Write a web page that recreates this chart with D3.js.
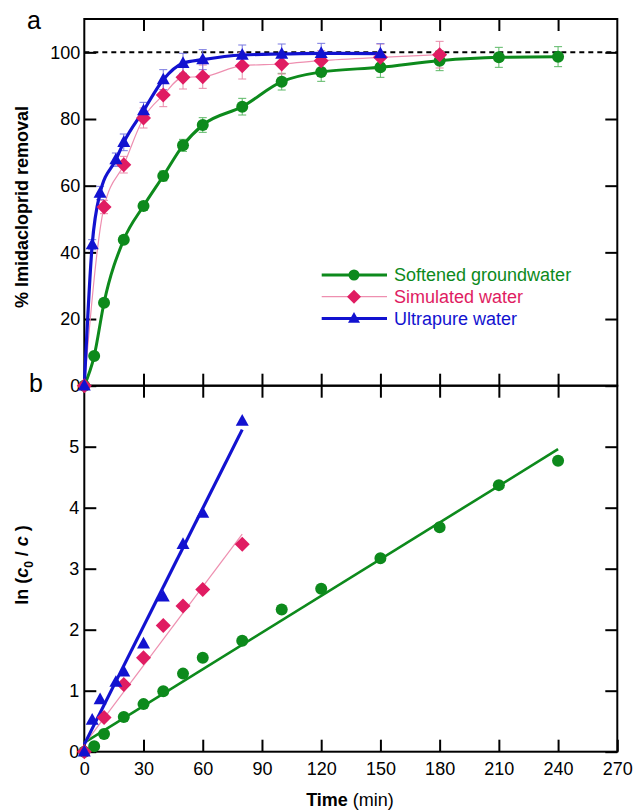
<!DOCTYPE html>
<html>
<head>
<meta charset="utf-8">
<script src="https://cdn.jsdelivr.net/npm/d3@7/dist/d3.min.js"></script>
<style>
  html, body { margin: 0; padding: 0; background: #fff; }
  svg { display: block; font-family: Arial, "Liberation Sans", sans-serif; }
</style>
</head>
<body>
<svg id="chart" width="635" height="812"></svg>
<script>
// ---- Panel a: % imidacloprid removal vs time ----
const timeSoft = [0, 5, 10, 20, 30, 40, 50, 60, 80, 100, 120, 150, 180, 210, 240];
const removalSoft = [0, 8.9, 24.9, 43.8, 53.9, 62.9, 72.1, 78.2, 83.7, 91.2, 94.1, 95.5, 97.5, 98.5, 98.7];
const errSoft = [0, 1, 1, 1, 1.2, 1.5, 1.8, 2.2, 2.5, 2.5, 2.8, 3, 3, 3, 3];

const timeSim = [0, 10, 20, 30, 40, 50, 60, 80, 100, 120, 150, 180];
const removalSim = [0, 53.6, 66.3, 80.3, 87.2, 92.5, 92.7, 96.0, 96.5, 97.5, 98.5, 99.3];
const errSim = [0, 2, 2.5, 3, 3.5, 3.5, 3.5, 4, 3, 3, 4, 4];

const timeUltra = [0, 4, 8, 16, 20, 30, 40, 50, 60, 80, 100, 120, 150];
const removalUltra = [0, 42.3, 57.8, 67.8, 73.0, 82.5, 91.8, 96.7, 97.8, 99.2, 99.5, 99.7, 99.6];
const errUltra = [0, 1.5, 2, 2, 2.5, 2.5, 3, 3, 3, 3, 3, 3, 3];

// ---- Panel b: ln(c0/c) vs time, with linear fits ----
const lnTimeSoft = [0, 5, 10, 20, 30, 40, 50, 60, 80, 100, 120, 150, 180, 210, 240];
const lnSoft = [0, 0.09, 0.29, 0.57, 0.78, 0.99, 1.28, 1.54, 1.82, 2.33, 2.67, 3.17, 3.68, 4.37, 4.77];
const lnTimeSim = [0, 10, 20, 30, 40, 50, 60, 80];
const lnSim = [0, 0.56, 1.10, 1.54, 2.07, 2.39, 2.66, 3.40];
const lnTimeUltra = [0, 4, 8, 16, 20, 30, 40, 50, 60, 80];
const lnUltra = [0, 0.52, 0.855, 1.14, 1.31, 1.77, 2.54, 3.40, 3.91, 5.42];

// linear fit: [intercept, slope, end time]
const fitSoft = [0.15, 0.02004, 240];
const fitSim = [0.12, 0.0431, 80];
const fitUltra = [0.12, 0.0645, 80];

const seriesNames = ["Softened groundwater", "Simulated water", "Ultrapure water"];
const xTicks = [0, 30, 60, 90, 120, 150, 180, 210, 240, 270];
const yTicksA = [0, 20, 40, 60, 80, 100];
const yTicksB = [0, 1, 2, 3, 4, 5];

const svg = d3.select("#chart");

const x = d3.scaleLinear().domain([0, 270]).range([84.3, 617.3]);
const yA = d3.scaleLinear().domain([0, 110]).range([385.7, 19]);
const yB = d3.scaleLinear().domain([0, 6]).range([751.7, 385.7]);

const colors = {
  soft: "#0d8a1c", softErr: "#5cb866",
  sim: "#e01c62", simLine: "#ee8fb0", simErr: "#e98aa9",
  ultra: "#1212d0", ultraErr: "#7878e0"
};

// marker shapes
function circlePath(cx, cy, r) {
  return `M${cx + r},${cy}A${r},${r} 0 1,1 ${cx - r},${cy}A${r},${r} 0 1,1 ${cx + r},${cy}Z`;
}
function diamondPath(cx, cy, h) {
  return `M${cx},${cy - h}L${cx + h},${cy}L${cx},${cy + h}L${cx - h},${cy}Z`;
}
function trianglePath(cx, cy, w) {
  const hh = w * 0.9;
  return `M${cx},${cy - hh * 0.6}L${cx + w / 2},${cy + hh * 0.4}L${cx - w / 2},${cy + hh * 0.4}Z`;
}

const tickFont = 18;
const intFmt = d3.format("d");

// ---------- Axes ----------
function styleAxis(g) {
  g.select(".domain").remove();
  g.selectAll(".tick line").attr("stroke", "#000").attr("stroke-width", 2);
  g.selectAll(".tick text").attr("fill", "#000").style("font-size", tickFont + "px")
    .style("font-family", "Arial, 'Liberation Sans', sans-serif");
}

// panel a
svg.append("g").attr("transform", `translate(${x(0)},0)`)
  .call(d3.axisLeft(yA).tickValues(yTicksA).tickFormat(intFmt).tickSizeInner(-12).tickSizeOuter(0).tickPadding(4))
  .call(styleAxis);
svg.append("g").attr("transform", `translate(${x(270)},0)`)
  .call(d3.axisRight(yA).tickValues(yTicksA).tickSizeInner(-12).tickSizeOuter(0).tickFormat(""))
  .call(styleAxis);
svg.append("g").attr("transform", `translate(0,${yA(110)})`)
  .call(d3.axisTop(x).tickValues(xTicks.slice(1, -1)).tickSizeInner(-12).tickSizeOuter(0).tickFormat(""))
  .call(styleAxis);
svg.append("g").attr("transform", `translate(0,${yA(0)})`)
  .call(d3.axisBottom(x).tickValues(xTicks.slice(1, -1)).tickSizeInner(-12).tickSizeOuter(0).tickFormat(""))
  .call(styleAxis);

// panel b
svg.append("g").attr("transform", `translate(${x(0)},0)`)
  .call(d3.axisLeft(yB).tickValues(yTicksB).tickFormat(intFmt).tickSizeInner(-12).tickSizeOuter(0).tickPadding(5))
  .call(styleAxis);
svg.append("g").attr("transform", `translate(${x(270)},0)`)
  .call(d3.axisRight(yB).tickValues(yTicksB).tickSizeInner(-12).tickSizeOuter(0).tickFormat(""))
  .call(styleAxis);
svg.append("g").attr("transform", `translate(0,${yB(6)})`)
  .call(d3.axisTop(x).tickValues(xTicks.slice(1, -1)).tickSizeInner(-12).tickSizeOuter(0).tickFormat(""))
  .call(styleAxis);
svg.append("g").attr("transform", `translate(0,${yB(0)})`)
  .call(d3.axisBottom(x).tickValues(xTicks).tickFormat(intFmt).tickSizeInner(-12).tickSizeOuter(0).tickPadding(11))
  .call(styleAxis);

// frames
svg.append("rect").attr("x", x(0)).attr("y", yA(110)).attr("width", x(270) - x(0)).attr("height", yA(0) - yA(110))
  .attr("fill", "none").attr("stroke", "#000").attr("stroke-width", 2);
svg.append("rect").attr("x", x(0)).attr("y", yB(6)).attr("width", x(270) - x(0)).attr("height", yB(0) - yB(6))
  .attr("fill", "none").attr("stroke", "#000").attr("stroke-width", 2);

// ---------- Panel a ----------
// 100 % reference line
svg.append("line").attr("x1", x(0)).attr("x2", x(270)).attr("y1", yA(100)).attr("y2", yA(100))
  .attr("stroke", "#000").attr("stroke-width", 2).attr("stroke-dasharray", "5,4");

function zip(t, v) { return t.map((d, i) => [d, v[i]]); }

const lineA = d3.line().x(d => x(d[0])).y(d => yA(d[1])).curve(d3.curveMonotoneX);

function errorBars(t, v, e, color) {
  const g = svg.append("g").attr("stroke", color).attr("stroke-width", 1).attr("fill", "none");
  t.forEach((tt, i) => {
    if (!e[i]) return;
    const cx = x(tt), y1 = yA(v[i] + e[i]), y2 = yA(v[i] - e[i]);
    g.append("line").attr("x1", cx).attr("x2", cx).attr("y1", y1).attr("y2", y2);
    g.append("line").attr("x1", cx - 4).attr("x2", cx + 4).attr("y1", y1).attr("y2", y1);
    g.append("line").attr("x1", cx - 4).attr("x2", cx + 4).attr("y1", y2).attr("y2", y2);
  });
}

errorBars(timeSoft, removalSoft, errSoft, colors.softErr);
errorBars(timeSim, removalSim, errSim, colors.simErr);
errorBars(timeUltra, removalUltra, errUltra, colors.ultraErr);

svg.append("path").attr("d", lineA(zip(timeSoft, removalSoft)))
  .attr("fill", "none").attr("stroke", colors.soft).attr("stroke-width", 3);
svg.append("path").attr("d", lineA(zip(timeSim, removalSim)))
  .attr("fill", "none").attr("stroke", colors.simLine).attr("stroke-width", 1.2);
svg.append("path").attr("d", lineA(zip(timeUltra, removalUltra)))
  .attr("fill", "none").attr("stroke", colors.ultra).attr("stroke-width", 3.2);

function markers(t, v, y, shape, color) {
  svg.append("g").selectAll("path").data(zip(t, v)).join("path")
    .attr("d", d => {
      const cx = x(d[0]), cy = y(d[1]);
      if (shape === "circle") return circlePath(cx, cy, 6);
      if (shape === "diamond") return diamondPath(cx, cy, 7.5);
      return trianglePath(cx, cy, 13);
    })
    .attr("fill", color);
}

markers(timeSoft, removalSoft, yA, "circle", colors.soft);
markers(timeSim, removalSim, yA, "diamond", colors.sim);
markers(timeUltra, removalUltra, yA, "triangle", colors.ultra);

// ---------- Panel b ----------
function fitLine(fit, color, width) {
  const pts = [[0, fit[0]], [fit[2], fit[0] + fit[1] * fit[2]]];
  svg.append("line")
    .attr("x1", x(pts[0][0])).attr("y1", yB(pts[0][1]))
    .attr("x2", x(pts[1][0])).attr("y2", yB(pts[1][1]))
    .attr("stroke", color).attr("stroke-width", width);
}
fitLine(fitSoft, colors.soft, 2.6);
fitLine(fitSim, colors.simLine, 1.2);
fitLine(fitUltra, colors.ultra, 3.2);

markers(lnTimeSoft, lnSoft, yB, "circle", colors.soft);
markers(lnTimeSim, lnSim, yB, "diamond", colors.sim);
markers(lnTimeUltra, lnUltra, yB, "triangle", colors.ultra);

// ---------- Legend ----------
const legend = svg.append("g");
const legendRows = [
  { name: seriesNames[0], color: colors.soft, line: colors.soft, w: 3, shape: "circle" },
  { name: seriesNames[1], color: colors.sim, line: colors.simLine, w: 1.2, shape: "diamond" },
  { name: seriesNames[2], color: colors.ultra, line: colors.ultra, w: 3, shape: "triangle" }
];
legendRows.forEach((r, i) => {
  const cy = 275 + i * 21.7;
  legend.append("line").attr("x1", 321.7).attr("x2", 387).attr("y1", cy).attr("y2", cy)
    .attr("stroke", r.line).attr("stroke-width", r.w);
  let d;
  if (r.shape === "circle") d = circlePath(354, cy, 5.5);
  else if (r.shape === "diamond") d = diamondPath(354, cy, 7);
  else d = trianglePath(354, cy, 12);
  legend.append("path").attr("d", d).attr("fill", r.color);
  legend.append("text").attr("x", 394).attr("y", cy).attr("dy", "0.35em")
    .attr("fill", r.color).style("font-size", "18px").text(r.name);
});

// ---------- Labels ----------
svg.append("text").attr("x", 27).attr("y", 29).style("font-size", "25px").text("a");
svg.append("text").attr("x", 29).attr("y", 392).style("font-size", "25px").text("b");

svg.append("text")
  .attr("transform", `translate(28,207) rotate(-90)`)
  .attr("text-anchor", "middle")
  .style("font-size", "18px").style("font-weight", "bold")
  .text("% Imidacloprid removal");

const lnLabel = svg.append("text")
  .attr("transform", `translate(28,565) rotate(-90)`)
  .attr("text-anchor", "middle")
  .style("font-size", "18px").style("font-weight", "bold");
lnLabel.append("tspan").text("ln (");
lnLabel.append("tspan").style("font-style", "italic").text("c");
lnLabel.append("tspan").attr("dy", 5).style("font-size", "12px").text("0");
lnLabel.append("tspan").attr("dy", -5).text(" / ");
lnLabel.append("tspan").style("font-style", "italic").text("c");
lnLabel.append("tspan").text(" )");

const xLabel = svg.append("text").attr("x", 350).attr("y", 806).attr("text-anchor", "middle")
  .style("font-size", "18px");
xLabel.append("tspan").style("font-weight", "bold").text("Time");
xLabel.append("tspan").text(" (min)");
</script>
</body>
</html>
